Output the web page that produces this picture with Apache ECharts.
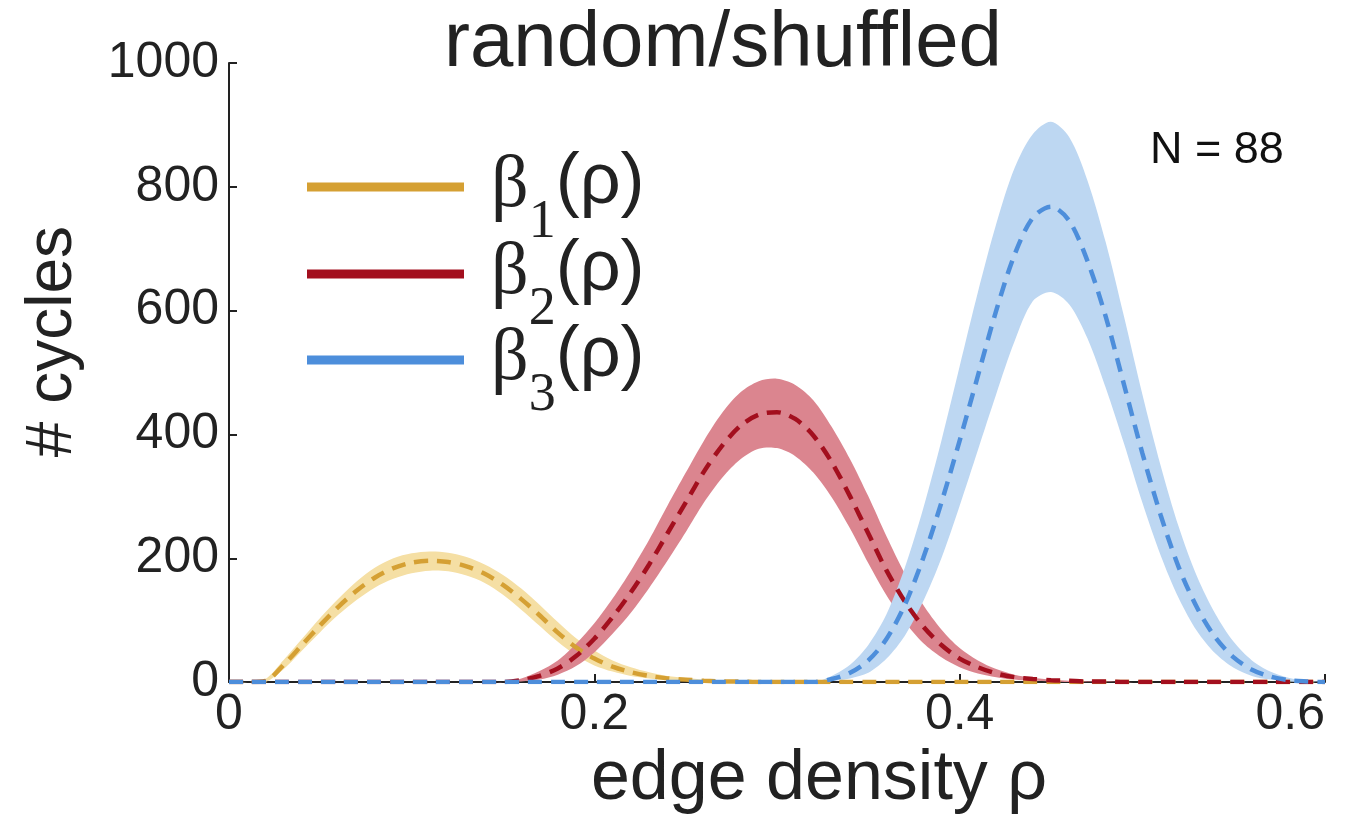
<!DOCTYPE html>
<html>
<head>
<meta charset="utf-8">
<title>random/shuffled</title>
<script src="https://cdn.jsdelivr.net/npm/echarts@6/dist/echarts.min.js"></script>
<style>
  html, body { margin: 0; padding: 0; background: #fff; }
  #main { width: 1346px; height: 820px; }
</style>
</head>
<body>
<div id="main"></div>
<script>
// edge density grid (x)
var rho = [0, 0.01, 0.02, 0.03, 0.04, 0.05, 0.06, 0.07, 0.08, 0.09,
  0.10, 0.11, 0.12, 0.13, 0.14, 0.15, 0.16, 0.17, 0.18, 0.19,
  0.20, 0.21, 0.22, 0.23, 0.24, 0.25, 0.26, 0.27, 0.28, 0.29,
  0.30, 0.31, 0.32, 0.33, 0.34, 0.35, 0.36, 0.37, 0.38, 0.39,
  0.40, 0.41, 0.42, 0.43, 0.44, 0.45, 0.46, 0.47, 0.48, 0.49,
  0.50, 0.51, 0.52, 0.53, 0.54, 0.55, 0.56, 0.57, 0.58, 0.59, 0.60];

// beta 1 : mean, lower and upper band
var b1Mean = [0, 0, 2, 28, 60, 92, 122, 148, 169, 184,
  193, 196, 194, 187, 175, 157, 134, 108, 80, 56,
  38, 25, 16, 10, 6, 4, 2, 1, 1, 0,
  0, 0, 0, 0, 0, 0, 0, 0, 0, 0,
  0, 0, 0, 0, 0, 0, 0, 0, 0, 0,
  0, 0, 0, 0, 0, 0, 0, 0, 0, 0, 0];
var b1Lo = [0, 0, 0, 21, 51, 81, 109, 133, 153, 167,
  176, 180, 179, 172, 160, 141, 117, 91, 65, 43,
  27, 17, 10, 6, 3, 2, 1, 0, 0, 0,
  0, 0, 0, 0, 0, 0, 0, 0, 0, 0,
  0, 0, 0, 0, 0, 0, 0, 0, 0, 0,
  0, 0, 0, 0, 0, 0, 0, 0, 0, 0, 0];
var b1Hi = [0, 0, 5, 36, 70, 104, 135, 163, 185, 200,
  208, 211, 209, 202, 190, 173, 151, 125, 97, 71,
  51, 35, 24, 16, 10, 7, 4, 3, 2, 1,
  0, 0, 0, 0, 0, 0, 0, 0, 0, 0,
  0, 0, 0, 0, 0, 0, 0, 0, 0, 0,
  0, 0, 0, 0, 0, 0, 0, 0, 0, 0, 0];

// beta 2
var b2Mean = [0, 0, 0, 0, 0, 0, 0, 0, 0, 0,
  0, 0, 0, 0, 0, 0, 3, 10, 22, 42,
  70, 105, 145, 190, 240, 290, 340, 382, 414, 432,
  436, 425, 398, 355, 300, 240, 180, 130, 90, 60,
  38, 24, 14, 8, 5, 3, 2, 1, 1, 0,
  0, 0, 0, 0, 0, 0, 0, 0, 0, 0, 0];
var b2Lo = [0, 0, 0, 0, 0, 0, 0, 0, 0, 0,
  0, 0, 0, 0, 0, 0, 1, 4, 12, 26,
  48, 78, 112, 152, 196, 242, 290, 330, 360, 377,
  378, 365, 338, 298, 248, 192, 140, 97, 63, 40,
  24, 14, 8, 4, 2, 1, 0, 0, 0, 0,
  0, 0, 0, 0, 0, 0, 0, 0, 0, 0, 0];
var b2Hi = [0, 0, 0, 0, 0, 0, 0, 0, 0, 0,
  0, 0, 0, 0, 0, 0, 6, 18, 35, 62,
  95, 135, 180, 230, 285, 338, 390, 435, 468, 486,
  490, 480, 455, 412, 360, 300, 235, 175, 125, 85,
  55, 35, 21, 12, 7, 4, 2, 1, 1, 0,
  0, 0, 0, 0, 0, 0, 0, 0, 0, 0, 0];

// beta 3
var b3Mean = [0, 0, 0, 0, 0, 0, 0, 0, 0, 0,
  0, 0, 0, 0, 0, 0, 0, 0, 0, 0,
  0, 0, 0, 0, 0, 0, 0, 0, 0, 0,
  0, 0, 0, 5, 15, 35, 70, 125, 200, 290,
  390, 495, 600, 690, 750, 768, 745, 680, 590, 480,
  370, 270, 185, 120, 72, 40, 20, 9, 3, 1, 0];
var b3Lo = [0, 0, 0, 0, 0, 0, 0, 0, 0, 0,
  0, 0, 0, 0, 0, 0, 0, 0, 0, 0,
  0, 0, 0, 0, 0, 0, 0, 0, 0, 0,
  0, 0, 0, 2, 6, 15, 38, 75, 130, 200,
  285, 375, 465, 550, 615, 630, 610, 555, 475, 385,
  290, 205, 135, 82, 46, 23, 10, 4, 1, 0, 0];
var b3Hi = [0, 0, 0, 0, 0, 0, 0, 0, 0, 0,
  0, 0, 0, 0, 0, 0, 0, 0, 0, 0,
  0, 0, 0, 0, 0, 0, 0, 0, 0, 0,
  0, 0, 0, 10, 28, 60, 110, 185, 280, 390,
  510, 630, 740, 830, 885, 905, 880, 810, 710, 590,
  465, 350, 250, 170, 110, 65, 35, 17, 7, 2, 0];

var names = ['beta1', 'beta2', 'beta3'];
var subs = ['1', '2', '3'];

var lineColors = ['#d5a033', '#a30f1e', '#4d8edb'];
var bandColors = ['#f5dfa4', '#db858f', '#bdd7f2'];

function pairs(ys) {
    return rho.map(function (x, i) { return [x, ys[i]]; });
}

// shaded band between lo and hi, drawn as one polygon through the axis scales
function bandSeries(lo, hi, color) {
    return {
        type: 'custom', silent: true, z: 1,
        data: [[0, 0]],
        renderItem: function (params, api) {
            var pts = [];
            for (var i = 0; i < rho.length; i++) pts.push(api.coord([rho[i], hi[i]]));
            for (var j = rho.length - 1; j >= 0; j--) pts.push(api.coord([rho[j], lo[j]]));
            return {
                type: 'polygon',
                shape: { points: pts, smooth: 0.3 },
                style: { fill: color }
            };
        }
    };
}

var bands = [[b1Lo, b1Hi], [b2Lo, b2Hi], [b3Lo, b3Hi]];
var means = [b1Mean, b2Mean, b3Mean];

var series = [];
bands.forEach(function (b, k) {
    series.push(bandSeries(b[0], b[1], bandColors[k]));
});
means.forEach(function (m, k) {
    series.push({
        name: names[k], type: 'line', data: pairs(m),
        symbol: 'none', smooth: 0.3, color: lineColors[k],
        lineStyle: { width: 4.5, type: [14, 9], color: lineColors[k] },
        z: 3
    });
});

var legendTops = [124, 211, 297];
var legends = names.map(function (n, k) {
    return {
        data: [n], left: 307, top: legendTops[k], padding: 0,
        icon: 'rect', itemWidth: 157, itemHeight: 9,
        selectedMode: false,
        formatter: function () { return '{b|β}{s|' + subs[k] + '}{p|(ρ)}'; },
        textStyle: {
            color: '#222',
            rich: {
                b: { fontFamily: 'Liberation Serif', fontSize: 74, lineHeight: 70, padding: [0, 0, 0, 22] },
                s: { fontFamily: 'Liberation Serif', fontSize: 54, lineHeight: 70, padding: [72, 0, 0, 0] },
                p: { fontFamily: 'Liberation Sans', fontSize: 72, lineHeight: 70, padding: [0, 0, 8, 0] }
            }
        }
    };
});

var option = {
    animation: false,
    backgroundColor: '#fff',
    title: {
        text: 'random/shuffled', left: 439, top: 0,
        textStyle: { fontFamily: 'Liberation Sans', fontSize: 78, fontWeight: 'normal', color: '#222' }
    },
    legend: legends,
    grid: { left: 229, right: 21, top: 63, bottom: 130 },
    xAxis: {
        type: 'value', min: 0, max: 0.6, interval: 0.2,
        name: 'edge density ρ', nameLocation: 'middle', nameGap: 45,
        nameTextStyle: { fontFamily: 'Liberation Sans', fontSize: 70, color: '#222', padding: [0, 0, 0, 84] },
        axisLine: { lineStyle: { color: '#222', width: 2 } },
        axisTick: { inside: true, length: 8, lineStyle: { color: '#222', width: 2 } },
        axisLabel: {
            fontFamily: 'Liberation Sans', fontSize: 50, color: '#222', margin: 8,
            alignMaxLabel: 'right',
            formatter: function (v) { return v === 0 ? '0' : v.toFixed(1); }
        },
        splitLine: { show: false }
    },
    yAxis: {
        type: 'value', min: 0, max: 1000, interval: 200,
        name: '# cycles', nameLocation: 'middle', nameGap: 144,
        nameTextStyle: { fontFamily: 'Liberation Sans', fontSize: 64, color: '#222', padding: [0, 0, 0, 62] },
        axisLine: { show: true, lineStyle: { color: '#222', width: 2 } },
        axisTick: { show: true, inside: true, length: 8, lineStyle: { color: '#222', width: 2 } },
        axisLabel: {
            fontFamily: 'Liberation Sans', fontSize: 50, color: '#222', margin: 10,
            padding: [0, 0, 16, 0],
            formatter: function (v) { return String(v); }
        },
        splitLine: { show: false }
    },
    graphic: [{
        type: 'text', left: 1150, top: 128,
        style: { text: 'N = 88', fontFamily: 'Liberation Sans', fontSize: 45, fill: '#111' }
    }],
    series: series
};

var chart = echarts.init(document.getElementById('main'));
chart.setOption(option);
window.addEventListener('resize', function () {
    chart.resize();
});
</script>
</body>
</html>
